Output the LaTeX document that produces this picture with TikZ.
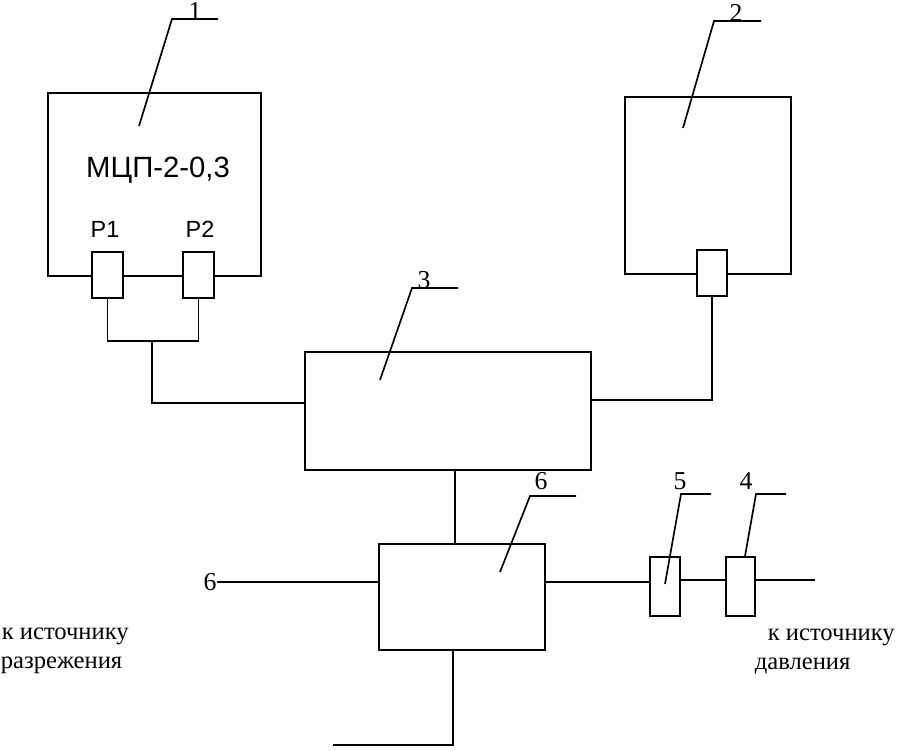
\documentclass[tikz,border=0pt]{standalone}
\usepackage{fontspec}
\setmainfont{Liberation Serif}
\newfontfamily\labelfont{Liberation Sans}
\usetikzlibrary{positioning,calc}
\begin{document}
\begin{tikzpicture}[x=0.03cm, y=-0.03cm, line width=0.05cm]
	\tikzstyle{block} = [rectangle, draw=black, inner sep=0pt]
	\tikzstyle{valve} = [rectangle, draw=black, fill=white, inner sep=0pt]
	\tikzstyle{num} = [font=\fontsize{22}{22}\selectfont, inner sep=0pt]
	\tikzstyle{note} = [font=\fontsize{21}{24}\selectfont, inner sep=0pt, anchor=west]
	\tikzstyle{tag} = [font=\labelfont\fontsize{20}{20}\selectfont, inner sep=0pt]
	\useasboundingbox (0, 0) rectangle (897, 750);
	% blocks
	\node (meter)[block, minimum width=6.39cm, minimum height=5.49cm] at (154.5, 184.5) {};
	\node (calib)[block, minimum width=4.98cm, minimum height=5.31cm] at (708, 185.5) {};
	\node (switch)[block, minimum width=8.58cm, minimum height=3.54cm] at (448, 411) {};
	\node (source)[block, minimum width=4.98cm, minimum height=3.18cm] at (462, 597) {};
	% valves
	\node (pone)[valve, minimum width=0.93cm, minimum height=1.38cm] at (107.5, 275) {};
	\node (ptwo)[valve, minimum width=0.93cm, minimum height=1.38cm] at (198.5, 275) {};
	\node (pthree)[valve, minimum width=0.9cm, minimum height=1.38cm] at (712, 273) {};
	\node (vfive)[valve, minimum width=0.9cm, minimum height=1.77cm] at (665, 586.5) {};
	\node (vfour)[valve, minimum width=0.87cm, minimum height=1.77cm] at (740.5, 586.5) {};
	% free ends and levels
	\coordinate (joint) at (152, 341);
	\coordinate (vacuum) at (217, 582);
	\coordinate (press) at (815, 580);
	\coordinate (drop) at (453, 745);
	\coordinate (dropend) at (333, 745);
	\coordinate (stem) at (455, 0);
	\coordinate (levelleft) at (0, 403);
	\coordinate (levelright) at (0, 400);
	\coordinate (levelsource) at (0, 582);
	% pipes
	\draw (pone.south) |- (joint) -| (ptwo.south);
	\draw (joint) |- (switch.west |- levelleft);
	\draw (switch.east |- levelright) -| (pthree.south);
	\draw (stem |- switch.south) -- (stem |- source.north);
	\draw (vacuum) -- (source.west |- vacuum);
	\draw (source.east |- levelsource) -- (vfive.west |- levelsource);
	\draw (vfive.east |- press) -- (vfour.west |- press);
	\draw (vfour.east |- press) -- (press);
	\draw (drop |- source.south) -- (drop) -- (dropend);
	% leaders
	\coordinate (tipfive) at (665, 584);
	\coordinate (tipfour) at (745, 0);
	\draw (139, 126) -- (172, 19) -- (218, 19);
	\draw (683, 128) -- (714, 21) -- (761, 21);
	\draw (380, 380) -- (412, 288) -- (458, 288);
	\draw (500, 572) -- (530, 496) -- (576, 496);
	\draw (tipfive) -- (681, 494) -- (711, 494);
	\draw (tipfour |- vfour.north) -- (756, 494) -- (786, 494);
	% labels
	\node (numone)[num] at (195, 11) {1};
	\node (numtwo)[num] at (736, 13) {2};
	\node (numthree)[num] at (424, 280) {3};
	\node (numsixa)[num] at (541, 481) {6};
	\node (numfive)[num] at (680, 481) {5};
	\node (numfour)[num] at (746, 481) {4};
	\node (numsixb)[num] at (210, 582) {6};
	\node (model)[font=\labelfont\fontsize{25}{25}\selectfont, inner sep=0pt] at (158, 170) {МЦП-2-0,3};
	\node (ponelabel)[tag] at (105, 229) {Р1};
	\node (ptwolabel)[tag] at (200, 229) {Р2};
	\node (vactext)[note] at (1, 636) {к источнику};
	\node (vactexttwo)[note] at (0, 665) {разрежения};
	\node (prtext)[note] at (767, 637) {к источнику};
	\node (prtexttwo)[note] at (754, 666) {давления};
\end{tikzpicture}
\end{document}
